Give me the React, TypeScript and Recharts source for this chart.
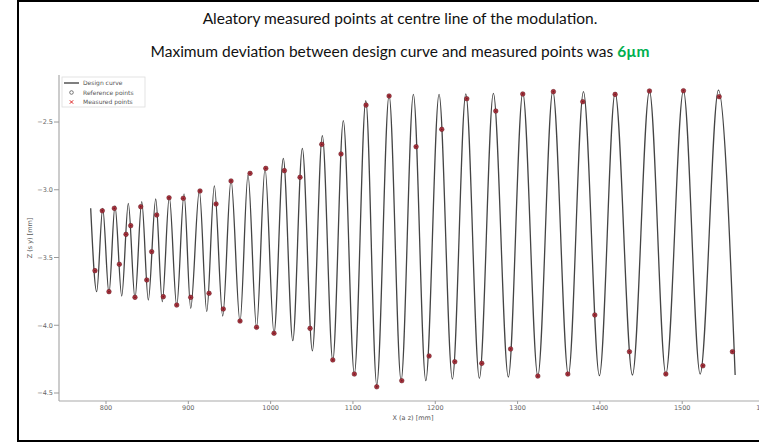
import React from 'react';
import { ComposedChart, Line, Scatter, XAxis, YAxis } from 'recharts';

// Design curve: x positions of successive extrema (peak/trough) [mm] and their values [mm]
const curveX = [781.4, 788.7, 796.0, 803.6, 810.9, 819.1, 827.1, 835.2, 843.4, 851.4, 860.4, 868.4, 876.9, 885.9, 894.8, 902.9, 913.4, 922.4, 931.6, 941.8, 951.9, 962.8, 972.5, 982.9, 993.2, 1004.1, 1015.4, 1026.9, 1038.5, 1050.7, 1062.8, 1075.5, 1088.3, 1101.7, 1115.6, 1128.9, 1143.9, 1158.5, 1173.4, 1188.5, 1204.6, 1220.8, 1237.1, 1253.6, 1270.6, 1288.8, 1306.3, 1324.6, 1342.8, 1361.7, 1380.0, 1399.4, 1418.5, 1439.5, 1460.2, 1480.1, 1501.5, 1521.8, 1544.0, 1564.3];
const curveY = [-3.137, -3.752, -3.137, -3.764, -3.120, -3.784, -3.100, -3.801, -3.088, -3.814, -3.068, -3.826, -3.051, -3.858, -3.031, -3.875, -3.007, -3.900, -2.972, -3.932, -2.928, -3.974, -2.891, -4.017, -2.842, -4.059, -2.768, -4.114, -2.694, -4.188, -2.601, -4.262, -2.490, -4.360, -2.343, -4.441, -2.301, -4.409, -2.296, -4.409, -2.296, -4.397, -2.293, -4.392, -2.288, -4.382, -2.284, -4.375, -2.271, -4.367, -2.276, -4.372, -2.284, -4.367, -2.271, -4.360, -2.269, -4.360, -2.264, -4.367];

// Measured points
const measX = [786.6, 795.5, 803.6, 810.1, 816.2, 824.3, 830.0, 835.2, 842.2, 849.5, 855.5, 861.6, 869.6, 876.6, 885.9, 893.9, 902.9, 914.2, 925.2, 933.7, 942.5, 951.9, 962.8, 975.0, 982.9, 994.1, 1004.1, 1016.7, 1035.7, 1047.9, 1062.1, 1075.5, 1085.5, 1101.7, 1115.9, 1128.9, 1143.9, 1159.3, 1176.7, 1192.5, 1207.9, 1223.7, 1238.3, 1256.5, 1273.5, 1291.5, 1306.3, 1324.6, 1343.5, 1361.0, 1379.2, 1393.8, 1418.5, 1435.9, 1460.2, 1480.1, 1501.5, 1525.1, 1544.9, 1561.0];
const measY = [-3.597, -3.155, -3.752, -3.137, -3.550, -3.329, -3.265, -3.794, -3.125, -3.666, -3.457, -3.186, -3.789, -3.059, -3.851, -3.063, -3.794, -3.009, -3.764, -3.105, -3.880, -2.935, -3.969, -2.879, -4.015, -2.842, -4.059, -2.859, -2.908, -4.023, -2.665, -4.256, -2.736, -4.360, -2.375, -4.454, -2.308, -4.409, -2.682, -4.227, -2.554, -4.269, -2.328, -4.281, -2.419, -4.175, -2.293, -4.375, -2.276, -4.360, -2.350, -3.924, -2.296, -4.195, -2.271, -4.360, -2.269, -4.299, -2.313, -4.195];

const xTicks = [800, 900, 1000, 1100, 1200, 1300, 1400, 1500, 1600];
const yTicks = [-4.5, -4.0, -3.5, -3.0, -2.5];

const curve = curveX.map((x, i) => ({ x, y: curveY[i] }));
const measured = measX.map((x, i) => ({ x, y: measY[i] }));

const X_DOMAIN: [number, number] = [742.9, 1603];
const Y_DOMAIN: [number, number] = [-4.559, -2.153];

const tickStyle = { fontSize: 6.5, fill: '#666', fontFamily: 'DejaVu Sans' };

const MeasuredShape = (props: any) => {
  const { cx, cy } = props;
  if (cx == null || cy == null) return null;
  return (
    <g>
      <circle cx={cx} cy={cy} r={2.3} fill="#b03440" stroke="#5a171c" strokeWidth={0.5} />
      <circle cx={cx} cy={cy} r={0.9} fill="#4a1216" fillOpacity={0.6} />
    </g>
  );
};

export default function App() {
  return (
    <div style={{ position: 'fixed', left: 0, top: 0, width: 759, height: 444, overflow: 'hidden', background: '#fff' }}>
      <div style={{ position: 'absolute', left: 17, top: 0, width: 800, height: 438, border: '2px solid #000' }} />
      <div style={{ position: 'absolute', left: 20, width: 760, top: 8, height: 20, lineHeight: '20px', textAlign: 'center', fontFamily: 'Lato', fontSize: 15.5, color: '#111' }}>
        Aleatory measured points at centre line of the modulation.
      </div>
      <div style={{ position: 'absolute', left: 20, width: 760, top: 41, height: 20, lineHeight: '20px', textAlign: 'center', fontFamily: 'Lato', fontSize: 15.5, color: '#111' }}>
        Maximum deviation between design curve and measured points was <span style={{ color: '#00b050', fontWeight: 'bold' }}>6µm</span>
      </div>
      <div style={{ position: 'absolute', left: 0, top: 0 }}>
        <ComposedChart width={800} height={444} margin={{ top: 75, right: 33, bottom: 23, left: 19 }}>
          <XAxis
            xAxisId="b"
            type="number"
            dataKey="x"
            domain={X_DOMAIN}
            allowDataOverflow
            ticks={xTicks}
            interval={0}
            tick={tickStyle}
            tickFormatter={(v: number) => String(v)}
            tickLine={{ stroke: '#999' }}
            axisLine={{ stroke: '#aaa', strokeWidth: 1.2 }}
            tickSize={3}
            tickMargin={1}
            height={20}
          />
          <XAxis
            xAxisId="t"
            orientation="top"
            type="number"
            dataKey="x"
            domain={X_DOMAIN}
            allowDataOverflow
            tick={false}
            tickLine={false}
            axisLine={{ stroke: '#aaa', strokeWidth: 1.2 }}
            height={0}
          />
          <YAxis
            yAxisId="l"
            type="number"
            dataKey="y"
            domain={Y_DOMAIN}
            allowDataOverflow
            ticks={yTicks}
            interval={0}
            tick={tickStyle}
            tickFormatter={(v: number) => v.toFixed(1).replace('-', '\u2212')}
            tickLine={{ stroke: '#999' }}
            axisLine={{ stroke: '#aaa', strokeWidth: 1.2 }}
            tickSize={5}
            tickMargin={1}
            width={40}
          />
          <Line
            xAxisId="b"
            yAxisId="l"
            data={curve}
            dataKey="y"
            type="monotoneX"
            dot={false}
            activeDot={false}
            stroke="#444"
            strokeWidth={1.3}
            isAnimationActive={false}
          />
          <Scatter
            xAxisId="b"
            yAxisId="l"
            data={measured}
            dataKey="y"
            shape={MeasuredShape}
            isAnimationActive={false}
          />
        </ComposedChart>
      </div>
      <svg width={759} height={444} style={{ position: 'absolute', left: 0, top: 0, pointerEvents: 'none' }}>
        <rect x={62} y={77} width={83} height={30} fill="#fff" fillOpacity={0.85} stroke="#ddd" strokeWidth={0.8} />
        <line x1={64} y1={83} x2={79} y2={83} stroke="#3a3a3a" strokeWidth={1.3} />
        <circle cx={71.5} cy={92.5} r={1.8} fill="none" stroke="#555" strokeWidth={0.8} />
        <g stroke="#d22" strokeWidth={1}>
          <line x1={69.8} y1={100.3} x2={73.2} y2={103.7} />
          <line x1={69.8} y1={103.7} x2={73.2} y2={100.3} />
        </g>
        <g fontFamily="DejaVu Sans" fontSize={6} fill="#555">
          <text x={83} y={85}>Design curve</text>
          <text x={83} y={94.5}>Reference points</text>
          <text x={83} y={104}>Measured points</text>
        </g>
        <text x={413} y={420} textAnchor="middle" fontFamily="DejaVu Sans" fontSize={6.5} fill="#555">X (a z) [mm]</text>
        <text x={32} y={238} textAnchor="middle" fontFamily="DejaVu Sans" fontSize={6.5} fill="#555" transform="rotate(-90 32 238)">Z (s y) [mm]</text>
      </svg>
    </div>
  );
}
